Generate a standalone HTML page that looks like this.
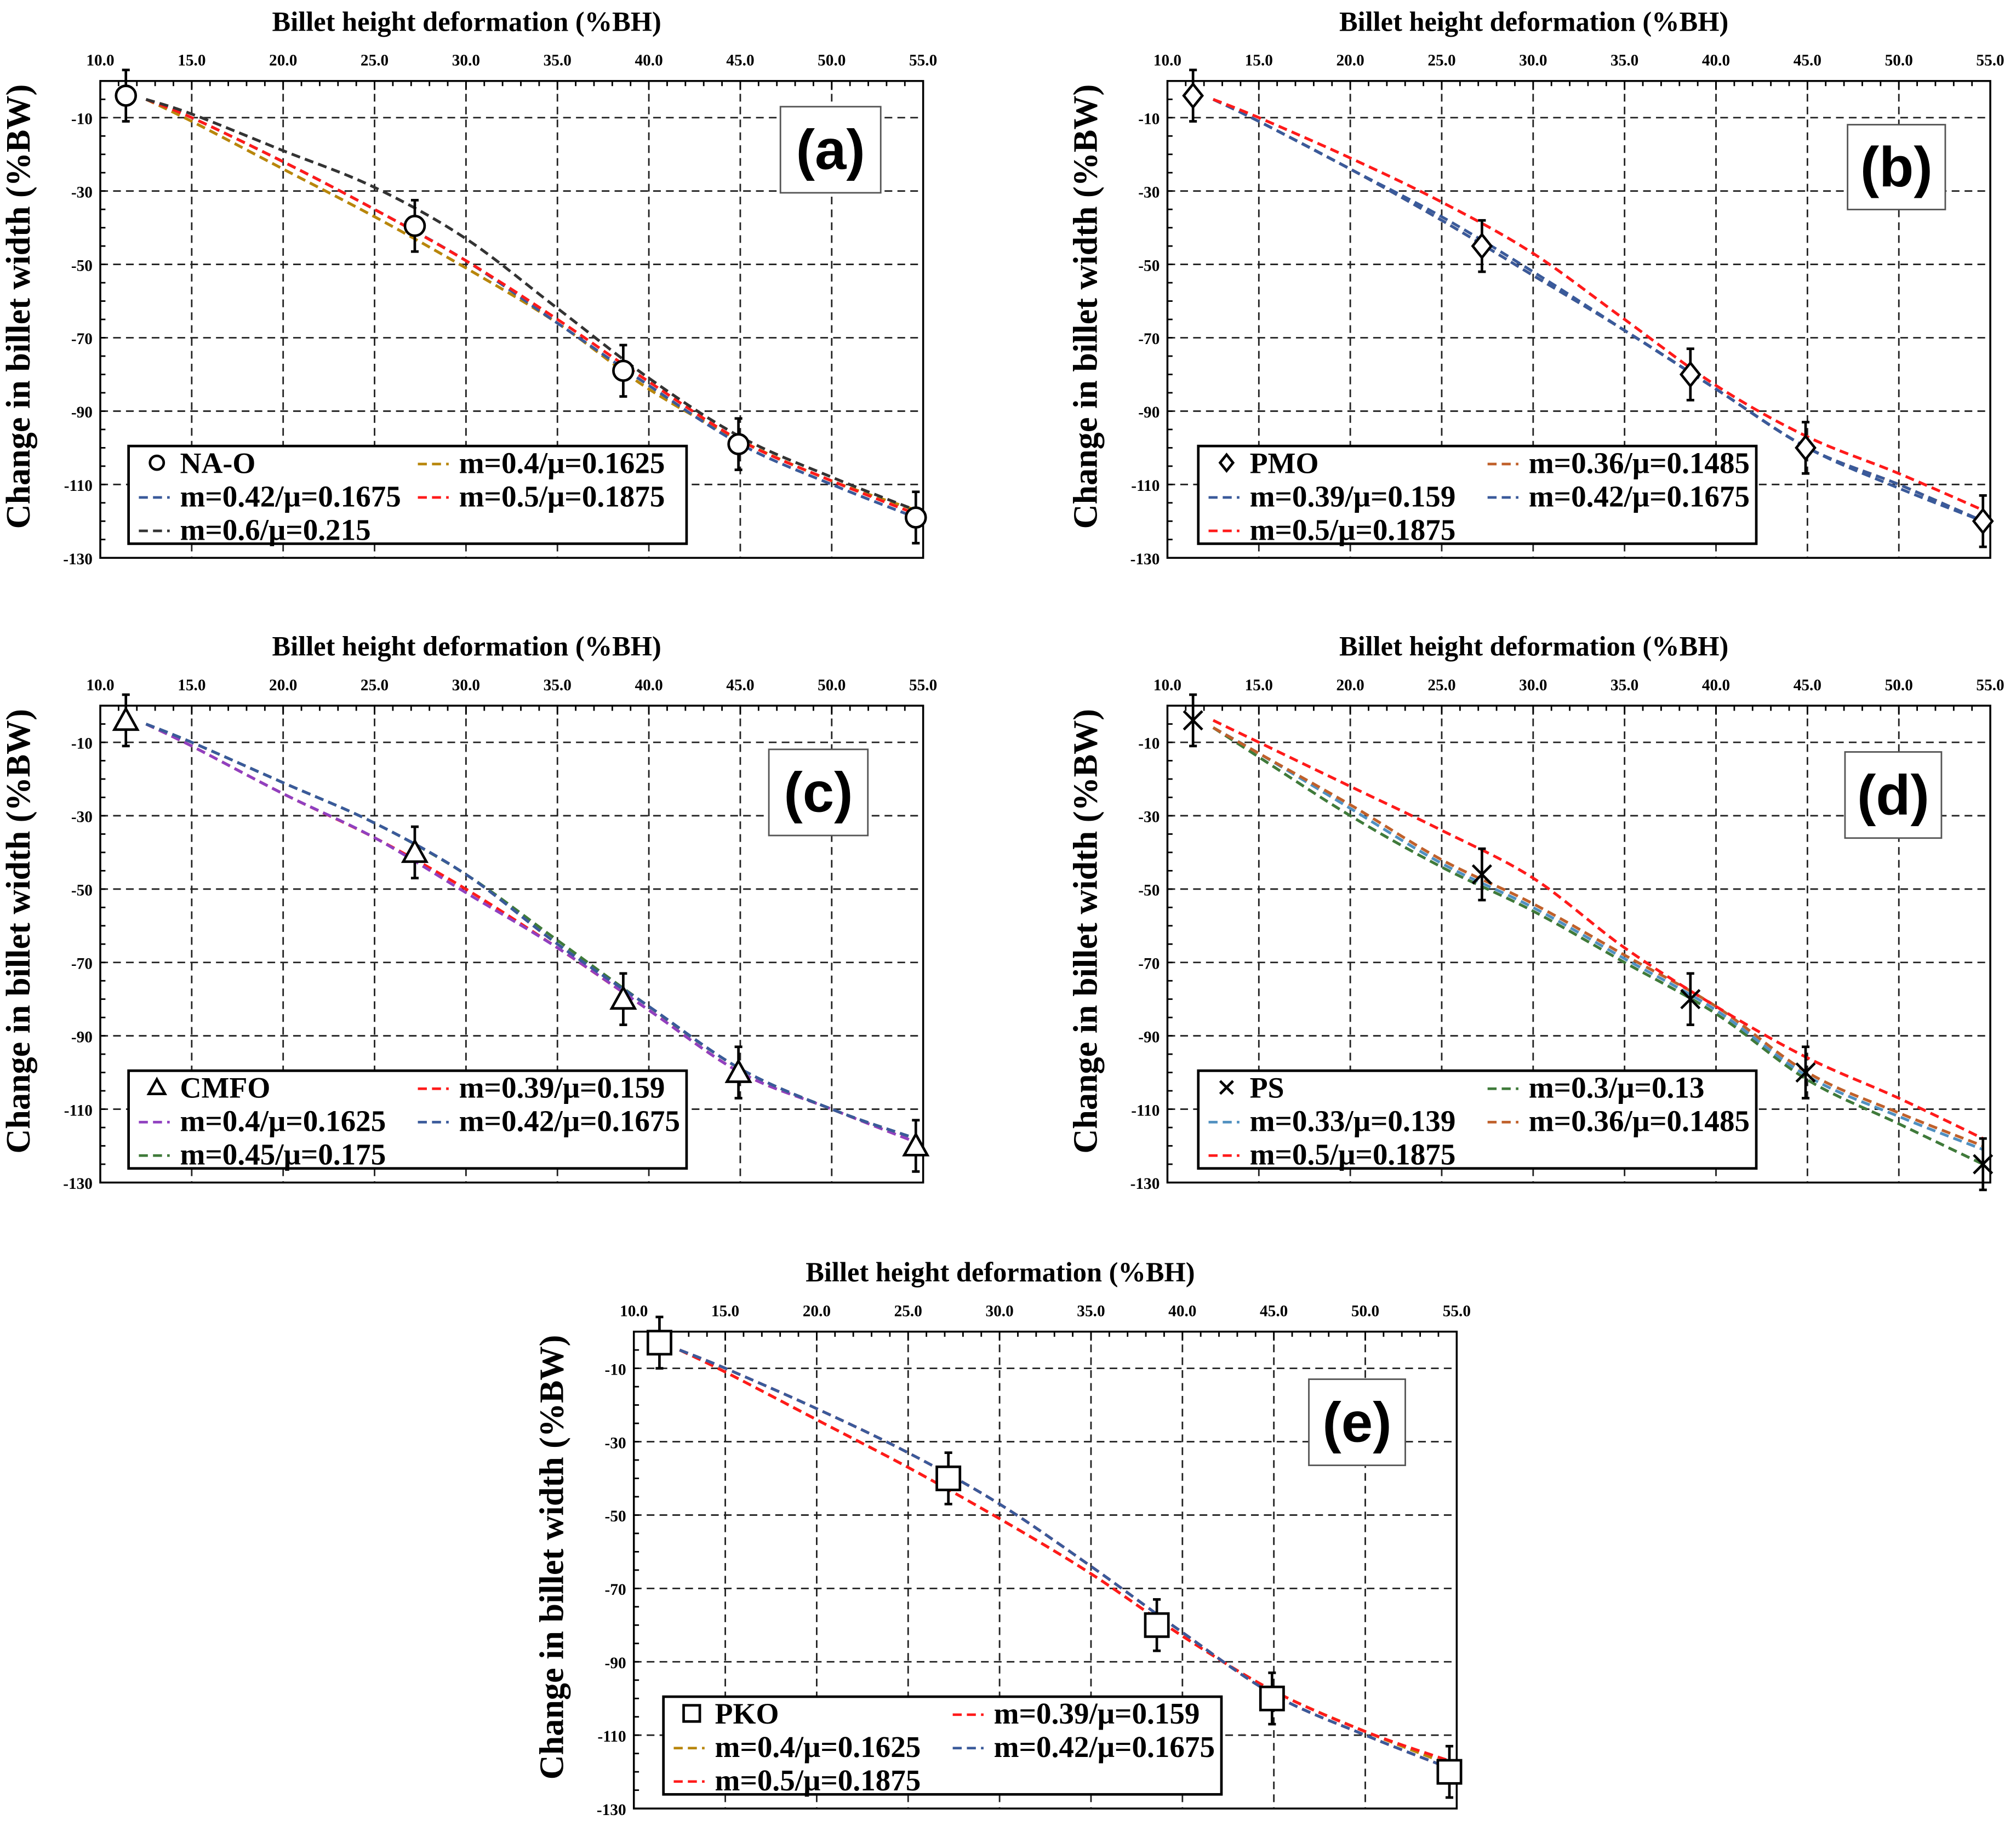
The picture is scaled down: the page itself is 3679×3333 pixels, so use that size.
<!DOCTYPE html>
<html><head><meta charset="utf-8"><style>
html,body{margin:0;padding:0;background:#fff;}
svg{display:block;}
text{font-family:"Liberation Serif",serif;font-weight:bold;fill:#000;}
.lbl{font-family:"Liberation Sans",sans-serif;}
</style></head><body>
<svg id="fig" width="3679" height="3333" viewBox="0 0 1568 1420.6" preserveAspectRatio="none" xmlns="http://www.w3.org/2000/svg"></svg>
<script>
const xTicks = [10,15,20,25,30,35,40,45,50,55];
const xTickLabels = ["10.0","15.0","20.0","25.0","30.0","35.0","40.0","45.0","50.0","55.0"];
const yTicks = [-10,-30,-50,-70,-90,-110,-130];
const expX = [11.4,27.2,38.6,44.9,54.6];
const curveX = [12.5,15,20,25,30,35,40,45,50,54.6];
const expA = [-4,-39.5,-79,-99,-119];
const expB = [-4,-45,-80,-100,-120];
const expC = [-4,-40,-80,-100,-120];
const expD = [-4,-46,-80,-100,-125];
const expE = [-3,-40,-80,-100,-120];
const a_m04 = [-5,-11,-24,-37,-51,-66,-84,-98,-109,-117];
const a_m042 = [-5,-10,-22,-35,-49,-66,-83,-99,-110,-119];
const a_m05 = [-5,-10,-22,-35,-49,-65,-82,-98,-109,-118];
const a_m06 = [-5,-9,-19,-29,-43,-62,-81,-97,-108,-117];
const b_m036 = [-5,-11,-24,-38,-53,-68,-84,-100,-110,-120];
const b_m039 = [-5,-11,-24,-37,-52,-68,-84,-100,-110,-120];
const b_m042 = [-5,-11,-24,-38,-53,-68,-84,-100,-111,-120];
const b_m05 = [-5,-10,-21,-33,-47,-65,-83,-97,-107,-117];
const c_m039 = [-5,-11,-24,-36,-50,-66,-83,-100,-110,-119];
const c_m04 = [-5,-11,-24,-36,-51,-66,-83,-100,-110,-119];
const c_m045 = [-5,-10,-21,-32,-46,-64,-82,-99,-110,-118];
const c_m042 = [-5,-10,-21,-32,-46,-65,-82,-99,-110,-118];
const d_m03 = [-6,-14,-30,-44,-56,-70,-84,-102,-114,-125];
const d_m033 = [-6,-13,-28,-43,-55,-69,-83,-101,-112,-121];
const d_m036 = [-6,-13,-27,-42,-54,-68,-82,-100,-111,-120];
const d_m05 = [-4,-10,-22,-34,-47,-66,-82,-96,-107,-118];
const e_m04 = [-5,-11,-24,-37,-51,-66,-83,-98,-109,-118];
const e_m05 = [-5,-11,-24,-37,-51,-66,-83,-98,-109,-117];
const e_m039 = [-5,-10,-21,-33,-47,-64,-82,-99,-110,-119];
const e_m042 = [-5,-10,-21,-33,-47,-64,-82,-99,-110,-119];

const NS="http://www.w3.org/2000/svg";
const svg=document.getElementById('fig');
function mk(tag,attrs,parent){const e=document.createElementNS(NS,tag);for(const k in attrs)e.setAttribute(k,attrs[k]);(parent||svg).appendChild(e);return e;}
const C={orange:"#b8860b",blue:"#3a5a9a",red:"#ff1a1a",black:"#333",green:"#3f7a3a",purple:"#9040c0",brown:"#c0602a",lblue:"#5090c0"};

const panels=[
 {id:"a",x0:78,y0:63,exp:expA,marker:"circle",name:"NA-O",box:[607,83,78,67],leg:[100,347],
  series:[[a_m04,C.orange],[a_m042,C.blue],[a_m05,C.red],[a_m06,C.black]],
  legend:[["m=0.4/μ=0.1625",C.orange,1,0],["m=0.42/μ=0.1675",C.blue,0,1],["m=0.5/μ=0.1875",C.red,1,1],["m=0.6/μ=0.215",C.black,0,2]]},
 {id:"b",x0:908,y0:63,exp:expB,marker:"diamond",name:"PMO",box:[1437,97,76,66],leg:[932,347],
  series:[[b_m036,C.brown],[b_m039,C.blue],[b_m042,C.blue],[b_m05,C.red]],
  legend:[["m=0.36/μ=0.1485",C.brown,1,0],["m=0.39/μ=0.159",C.blue,0,1],["m=0.42/μ=0.1675",C.blue,1,1],["m=0.5/μ=0.1875",C.red,0,2]]},
 {id:"c",x0:78,y0:549,exp:expC,marker:"triangle",name:"CMFO",box:[598,583,77,67],leg:[100,833],
  series:[[c_m039,C.red],[c_m04,C.purple],[c_m045,C.green],[c_m042,C.blue]],
  legend:[["m=0.39/μ=0.159",C.red,1,0],["m=0.4/μ=0.1625",C.purple,0,1],["m=0.42/μ=0.1675",C.blue,1,1],["m=0.45/μ=0.175",C.green,0,2]]},
 {id:"d",x0:908,y0:549,exp:expD,marker:"cross",name:"PS",box:[1435,585,75,67],leg:[932,833],
  series:[[d_m03,C.green],[d_m033,C.lblue],[d_m036,C.brown],[d_m05,C.red]],
  legend:[["m=0.3/μ=0.13",C.green,1,0],["m=0.33/μ=0.139",C.lblue,0,1],["m=0.36/μ=0.1485",C.brown,1,1],["m=0.5/μ=0.1875",C.red,0,2]]},
 {id:"e",x0:493,y0:1036,exp:expE,marker:"square",name:"PKO",box:[1018,1073,75,67],leg:[516,1320],
  series:[[e_m04,C.orange],[e_m05,C.red],[e_m039,C.red],[e_m042,C.blue]],
  legend:[["m=0.39/μ=0.159",C.red,1,0],["m=0.4/μ=0.1625",C.orange,0,1],["m=0.42/μ=0.1675",C.blue,1,1],["m=0.5/μ=0.1875",C.red,0,2]]}
];
const W=640,H=371;
function smooth(pts){
 let d='M'+pts[0][0].toFixed(1)+','+pts[0][1].toFixed(1);
 for(let i=0;i<pts.length-1;i++){
  const p0=pts[Math.max(0,i-1)],p1=pts[i],p2=pts[i+1],p3=pts[Math.min(pts.length-1,i+2)];
  const c1x=p1[0]+(p2[0]-p0[0])/6,c1y=p1[1]+(p2[1]-p0[1])/6;
  const c2x=p2[0]-(p3[0]-p1[0])/6,c2y=p2[1]-(p3[1]-p1[1])/6;
  d+=` C${c1x.toFixed(1)},${c1y.toFixed(1)} ${c2x.toFixed(1)},${c2y.toFixed(1)} ${p2[0].toFixed(1)},${p2[1].toFixed(1)}`;
 }
 return d;
}
panels.forEach(p=>{
 const g=mk('g',{});
 
 
 const sx=v=>p.x0+(v-10)/45*W;
 const sy=v=>p.y0+(-v)/130*H;
 xTicks.slice(1,-1).forEach(t=>{const l=mk('line',{x1:sx(t),x2:sx(t),y1:p.y0,y2:p.y0+H,stroke:"#222","stroke-width":1.2,"stroke-dasharray":"6,4"},g);});
 yTicks.slice(0,-1).forEach(t=>{const l=mk('line',{x1:p.x0,x2:p.x0+W,y1:sy(t),y2:sy(t),stroke:"#222","stroke-width":1.2,"stroke-dasharray":"6,4"},g);});
 for(let v=10;v<=55;v++){mk('line',{x1:sx(v),x2:sx(v),y1:p.y0,y2:p.y0+(v%5?4:7),stroke:"#000","stroke-width":1.2},g);}
 for(let v=0;v>=-130;v-=5){mk('line',{x1:p.x0,x2:p.x0+4,y1:sy(v),y2:sy(v),stroke:"#000","stroke-width":1.2},g);}
 const fr=mk('rect',{x:p.x0,y:p.y0,width:W,height:H,fill:"none",stroke:"#000","stroke-width":1.5},g);
 
 xTicks.forEach((t,i)=>{const tx=mk('text',{x:sx(t),y:p.y0-12,"font-size":12.5,"text-anchor":"middle"},g);tx.textContent=xTickLabels[i];});
 yTicks.forEach(t=>{const tx=mk('text',{x:p.x0-6,y:sy(t)+5,"font-size":12.5,"text-anchor":"end"},g);tx.textContent=String(t);});
 const xt=mk('text',{x:p.x0+W/2-35,y:p.y0-39,"font-size":21.5,"text-anchor":"middle"},g);xt.textContent="Billet height deformation (%BH)";
 
 const ycx=p.x0-55, ycy=p.y0+H/2-10;
 const yt=mk('text',{x:ycx,y:ycy,"font-size":26.5,"text-anchor":"middle",transform:`rotate(-90 ${ycx} ${ycy})`},g);yt.textContent="Change in billet width (%BW)";
 
 p.series.forEach(s=>{const pts=s[0].map((v,i)=>[sx(curveX[i]),sy(v)]);
  const pa=mk('path',{d:smooth(pts),fill:"none",stroke:s[1],"stroke-width":2.2,"stroke-dasharray":"7,4"},g);
  });
 p.exp.forEach((v,i)=>{const cx=sx(expX[i]),cy=sy(v);
  const eg=mk('g',{},g);
  mk('line',{x1:cx,x2:cx,y1:sy(v+7),y2:sy(v-7),stroke:"#000","stroke-width":2},eg);
  mk('line',{x1:cx-3,x2:cx+3,y1:sy(v+7),y2:sy(v+7),stroke:"#000","stroke-width":2},eg);
  mk('line',{x1:cx-3,x2:cx+3,y1:sy(v-7),y2:sy(v-7),stroke:"#000","stroke-width":2},eg);
  drawMarker(p.marker,cx,cy,eg,1);});
 const b=p.box;const lb=mk('g',{},g);
 mk('rect',{x:b[0],y:b[1],width:b[2],height:b[3],fill:"#fff",stroke:"#555","stroke-width":1.2},lb);
 const lt=mk('text',{x:b[0]+b[2]/2,y:b[1]+b[3]/2+15,"font-size":44,"text-anchor":"middle",class:"lbl"},lb);lt.textContent="("+p.id+")";
 const L=p.leg;const lg=mk('g',{},g);
 mk('rect',{x:L[0],y:L[1],width:434,height:76,fill:"#fff",stroke:"#000","stroke-width":2},lg);
 const e0=mk('g',{},lg);
 drawMarker(p.marker,L[0]+22,L[1]+13,e0,0.7);
 const t0=mk('text',{x:L[0]+40,y:L[1]+21,"font-size":23},e0);t0.textContent=p.name;
 p.legend.forEach(en=>{const ex=L[0]+(en[2]?225:8),ey=L[1]+13+en[3]*26;
  const eg=mk('g',{},lg);
  mk('line',{x1:ex,x2:ex+24,y1:ey+1,y2:ey+1,stroke:en[1],"stroke-width":2,"stroke-dasharray":"7,4"},eg);
  const tt=mk('text',{x:ex+32,y:ey+8,"font-size":23.5},eg);tt.textContent=en[0];});
});
function drawMarker(type,cx,cy,g,s){
 const r=9*s;const st={fill:"#fff",stroke:"#000","stroke-width":2};
 if(type==="circle")mk('circle',Object.assign({cx:cx,cy:cy,r:r*0.85},st),g);
 else if(type==="diamond")mk('polygon',Object.assign({points:`${cx},${cy-r} ${cx+r*0.8},${cy} ${cx},${cy+r} ${cx-r*0.8},${cy}`},st),g);
 else if(type==="triangle")mk('polygon',Object.assign({points:`${cx},${cy-r} ${cx+r},${cy+r*0.8} ${cx-r},${cy+r*0.8}`},st),g);
 else if(type==="square")mk('rect',Object.assign({x:cx-r,y:cy-r,width:2*r,height:2*r},st),g);
 else if(type==="cross"){mk('line',{x1:cx-r*0.8,y1:cy-r*0.8,x2:cx+r*0.8,y2:cy+r*0.8,stroke:"#000","stroke-width":2},g);mk('line',{x1:cx-r*0.8,y1:cy+r*0.8,x2:cx+r*0.8,y2:cy-r*0.8,stroke:"#000","stroke-width":2},g);}
}
</script>
</body></html>
